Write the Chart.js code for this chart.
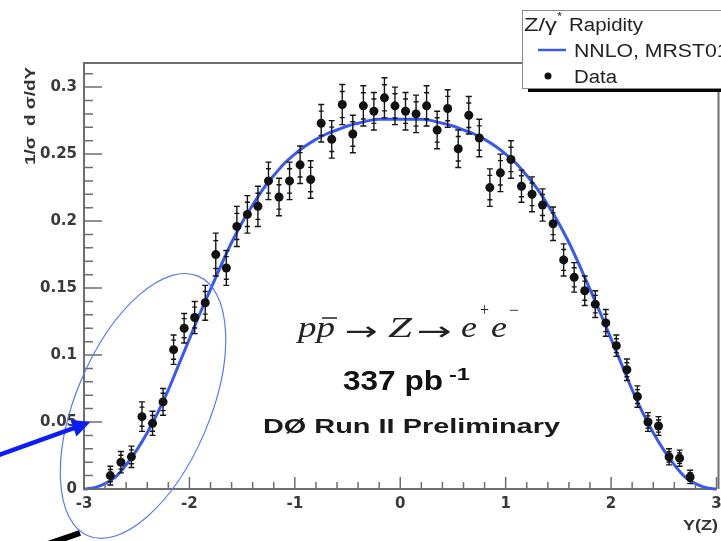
<!DOCTYPE html>
<html>
<head>
<meta charset="utf-8">
<script src="https://cdn.jsdelivr.net/npm/chart.js@4.4.1/dist/chart.umd.min.js"></script>
<style>
html, body { margin: 0; padding: 0; background: #fff; }
#c { display: block; }
</style>
</head>
<body>
<canvas id="c" width="721" height="541"></canvas>
<script>
// measured bins (bin centres in Y(Z))
const rapidity = [
  -2.75, -2.65, -2.55, -2.45, -2.35, -2.25, -2.15, -2.05, -1.95, -1.85,
  -1.75, -1.65, -1.55, -1.45, -1.35, -1.25, -1.15, -1.05, -0.95, -0.85,
  -0.75, -0.65, -0.55, -0.45, -0.35, -0.25, -0.15, -0.05, 0.05, 0.15,
  0.25, 0.35, 0.45, 0.55, 0.65, 0.75, 0.85, 0.95, 1.05, 1.15,
  1.25, 1.35, 1.45, 1.55, 1.65, 1.75, 1.85, 1.95, 2.05, 2.15,
  2.25, 2.35, 2.45, 2.55, 2.65, 2.75
];
const dsdy = [
  0.010, 0.020, 0.024, 0.054, 0.049, 0.065, 0.104, 0.120, 0.128, 0.139,
  0.175, 0.165, 0.196, 0.205, 0.211, 0.230, 0.218, 0.230, 0.242, 0.231,
  0.273, 0.261, 0.287, 0.265, 0.286, 0.282, 0.292, 0.286, 0.282, 0.280,
  0.286, 0.268, 0.284, 0.254, 0.279, 0.262, 0.225, 0.236, 0.246, 0.226,
  0.220, 0.212, 0.198, 0.171, 0.158, 0.148, 0.138, 0.124, 0.107, 0.089,
  0.069, 0.050, 0.047, 0.024, 0.023, 0.009
];
const dsdyErr = [
  0.007, 0.008, 0.008, 0.011, 0.009, 0.010, 0.011, 0.011, 0.012, 0.013,
  0.016, 0.013, 0.015, 0.014, 0.015, 0.014, 0.014, 0.014, 0.014, 0.014,
  0.014, 0.014, 0.015, 0.014, 0.015, 0.014, 0.015, 0.014, 0.014, 0.014,
  0.015, 0.014, 0.014, 0.014, 0.014, 0.014, 0.014, 0.014, 0.014, 0.012,
  0.013, 0.012, 0.0125, 0.012, 0.011, 0.011, 0.010, 0.010, 0.008, 0.008,
  0.008, 0.007, 0.007, 0.006, 0.006, 0.005
];

// NNLO, MRST01 prediction
const theoryX = [
  -3.0, -2.9, -2.8, -2.7, -2.6, -2.5, -2.4, -2.3, -2.2, -2.1,
  -2.0, -1.9, -1.8, -1.7, -1.6, -1.5, -1.4, -1.3, -1.2, -1.1,
  -1.0, -0.9, -0.8, -0.7, -0.6, -0.5, -0.4, -0.3, -0.2, -0.1,
  0.0, 0.1, 0.2, 0.3, 0.4, 0.5, 0.6, 0.7, 0.8, 0.9,
  1.0, 1.1, 1.2, 1.3, 1.4, 1.5, 1.6, 1.7, 1.8, 1.9,
  2.0, 2.1, 2.2, 2.3, 2.4, 2.5, 2.6, 2.7, 2.8, 2.9, 3.0
];
const theoryVal = [
  0.000, 0.001, 0.004, 0.009, 0.018, 0.029, 0.042, 0.057, 0.074, 0.093,
  0.112, 0.131, 0.149, 0.167, 0.184, 0.199, 0.212, 0.224, 0.234, 0.243,
  0.250, 0.256, 0.261, 0.265, 0.268, 0.271, 0.273, 0.275, 0.276, 0.276,
  0.276, 0.276, 0.276, 0.275, 0.273, 0.271, 0.268, 0.265, 0.261, 0.256,
  0.250, 0.243, 0.234, 0.224, 0.212, 0.199, 0.184, 0.167, 0.149, 0.131,
  0.112, 0.093, 0.074, 0.057, 0.042, 0.029, 0.018, 0.009, 0.004, 0.001, 0.000
];

const xTickVals = [-3, -2, -1, 0, 1, 2, 3];
const yTickVals = [0, 0.05, 0.1, 0.15, 0.2, 0.25, 0.3];

const BLUE = "#3a58f0";
const FRAME = "#6e6e6e";

function fitText(ctx, s, x, y, font, width, color) {
    ctx.save();
    ctx.font = font;
    ctx.fillStyle = color || "#111";
    ctx.textAlign = "left";
    ctx.textBaseline = "alphabetic";
    const w = ctx.measureText(s).width;
    ctx.translate(x, y);
    ctx.scale(width ? width / w : 1, 1);
    ctx.fillText(s, 0, 0);
    ctx.restore();
}

function scaledText(ctx, s, x, y, font, sx, color) {
    ctx.save();
    ctx.font = font;
    ctx.fillStyle = color || "#111";
    ctx.textBaseline = "alphabetic";
    ctx.translate(x, y);
    ctx.scale(sx, 1);
    ctx.fillText(s, 0, 0);
    ctx.restore();
}

const errorBars = {
    id: "errorBars",
    afterDatasetsDraw(chart) {
        const { ctx, scales: { x, y } } = chart;
        ctx.save();
        ctx.strokeStyle = "#151515";
        ctx.lineWidth = 1.4;
        rapidity.forEach((r, i) => {
            const px = x.getPixelForValue(r);
            const top = y.getPixelForValue(dsdy[i] + dsdyErr[i]);
            const bot = y.getPixelForValue(dsdy[i] - dsdyErr[i]);
            const inTop = y.getPixelForValue(dsdy[i] + dsdyErr[i] * 0.65);
            const inBot = y.getPixelForValue(dsdy[i] - dsdyErr[i] * 0.65);
            ctx.beginPath();
            ctx.moveTo(px, top);
            ctx.lineTo(px, bot);
            for (const yy of [top, bot]) {
                ctx.moveTo(px - 3, yy);
                ctx.lineTo(px + 3, yy);
            }
            for (const yy of [inTop, inBot]) {
                ctx.moveTo(px - 2.5, yy);
                ctx.lineTo(px + 2.5, yy);
            }
            ctx.stroke();
        });
        ctx.restore();
    },
};

const decorations = {
    id: "decorations",
    afterDraw(chart) {
        const { ctx, chartArea: a, scales: { x, y } } = chart;
        ctx.save();

        // frame top/right
        ctx.strokeStyle = FRAME;
        ctx.lineWidth = 2;
        ctx.beginPath();
        ctx.moveTo(a.left - 1, a.top);
        ctx.lineTo(a.right + 2, a.top);
        ctx.moveTo(a.right + 2, a.top);
        ctx.lineTo(a.right + 2, a.bottom);
        ctx.stroke();

        // inward ticks
        ctx.lineWidth = 1.5;
        ctx.beginPath();
        for (let k = 0; k <= 31; k++) {
            const py = y.getPixelForValue(k / 100);
            const len = k % 5 === 0 ? 18 : 9;
            ctx.moveTo(a.left, py);
            ctx.lineTo(a.left + len, py);
        }
        for (let k = -15; k <= 15; k++) {
            const px = x.getPixelForValue(k / 5);
            const len = k % 5 === 0 ? 12 : 7;
            ctx.moveTo(px, a.bottom);
            ctx.lineTo(px, a.bottom - len);
        }
        ctx.stroke();

        // axis titles
        ctx.save();
        ctx.translate(35, 165);
        ctx.rotate(-Math.PI / 2);
        fitText(ctx, "1/\u03c3  d \u03c3/dY", 0, 0, "bold 14px 'Liberation Sans'", 98, "#333");
        ctx.restore();
        fitText(ctx, "Y(Z)", 683, 530, "bold 14px 'Liberation Sans'", 35, "#333");

        // ellipse and arrows
        const ex = x.getPixelForValue(-2.44);
        const ey = y.getPixelForValue(0.062);
        ctx.strokeStyle = "#5a78f5";
        ctx.lineWidth = 1.2;
        ctx.beginPath();
        ctx.ellipse(ex, ey, 141, 67, -67 * Math.PI / 180, 0, Math.PI * 2);
        ctx.stroke();

        const tx = x.getPixelForValue(-2.94);
        const ty = y.getPixelForValue(0.05);
        const sx = -4, sy = 456;
        const ang = Math.atan2(ty - sy, tx - sx);
        ctx.strokeStyle = "#0b1cf5";
        ctx.fillStyle = "#0b1cf5";
        ctx.lineWidth = 4.5;
        ctx.beginPath();
        ctx.moveTo(sx, sy);
        ctx.lineTo(tx - 14 * Math.cos(ang), ty - 14 * Math.sin(ang));
        ctx.stroke();
        ctx.beginPath();
        ctx.moveTo(tx, ty);
        ctx.lineTo(tx - 18 * Math.cos(ang) + 9 * Math.sin(ang), ty - 18 * Math.sin(ang) - 9 * Math.cos(ang));
        ctx.lineTo(tx - 18 * Math.cos(ang) - 9 * Math.sin(ang), ty - 18 * Math.sin(ang) + 9 * Math.cos(ang));
        ctx.closePath();
        ctx.fill();

        ctx.strokeStyle = "#000";
        ctx.lineWidth = 6;
        ctx.beginPath();
        ctx.moveTo(42, 546);
        ctx.lineTo(80, 533);
        ctx.stroke();

        // physics labels
        const serif = "italic 30px 'Liberation Serif'";
        fitText(ctx, "pp", 298, 337, serif, 37, "#222");
        ctx.strokeStyle = "#222";
        ctx.lineWidth = 1.5;
        ctx.beginPath();
        ctx.moveTo(322, 318);
        ctx.lineTo(337, 318);
        ctx.stroke();
        fitText(ctx, "\u2192", 345, 340, "26px 'DejaVu Sans'", 33, "#222");
        fitText(ctx, "Z", 388, 337, serif, 24, "#222");
        fitText(ctx, "\u2192", 417, 340, "26px 'DejaVu Sans'", 35, "#222");
        fitText(ctx, "e", 461, 337, serif, 16, "#222");
        fitText(ctx, "+", 480, 316, "18px 'Liberation Serif'", 9, "#222");
        fitText(ctx, "e", 491, 337, serif, 16, "#222");
        fitText(ctx, "\u2212", 509, 316, "18px 'Liberation Serif'", 10, "#222");

        fitText(ctx, "337 pb", 343, 390, "bold 27px 'Liberation Sans'", 100, "#111");
        fitText(ctx, "-1", 449, 380, "bold 16px 'Liberation Sans'", 21, "#111");
        fitText(ctx, "D\u00d8 Run II Preliminary", 263, 433, "bold 21px 'Liberation Sans'", 297, "#1a1a1a");

        // legend
        ctx.fillStyle = "#000";
        ctx.fillRect(528, 88, 200, 4);
        ctx.fillStyle = "#fff";
        ctx.fillRect(522, 10, 205, 79);
        ctx.strokeStyle = "#8a8a8a";
        ctx.lineWidth = 1;
        ctx.strokeRect(522.5, 10.5, 205, 78);
        const lf = "18px 'Liberation Sans'";
        fitText(ctx, "Z/\u03b3", 524, 31, lf, 33, "#222");
        fitText(ctx, "*", 557, 20, "11px 'Liberation Sans'", 5, "#222");
        fitText(ctx, "Rapidity", 569, 31, lf, 74, "#222");
        ctx.strokeStyle = BLUE;
        ctx.lineWidth = 2.5;
        ctx.beginPath();
        ctx.moveTo(538, 50);
        ctx.lineTo(566, 50);
        ctx.stroke();
        scaledText(ctx, "NNLO, MRST01", 574, 57, lf, 1.18, "#222");
        ctx.fillStyle = "#111";
        ctx.beginPath();
        ctx.arc(548, 76, 3.5, 0, Math.PI * 2);
        ctx.fill();
        fitText(ctx, "Data", 574, 83, lf, 43, "#222");

        ctx.restore();
    },
};

const tickFont = { family: "'DejaVu Sans'", size: 15, weight: "bold" };

new Chart(document.getElementById("c"), {
    type: "scatter",
    data: {
        datasets: [
            {
                label: "Data",
                data: rapidity.map((r, i) => ({ x: r, y: dsdy[i] })),
                pointRadius: 4.5,
                pointBackgroundColor: "#111",
                pointBorderWidth: 0,
                order: 0,
            },
            {
                type: "line",
                label: "NNLO, MRST01",
                data: theoryX.map((r, i) => ({ x: r, y: theoryVal[i] })),
                borderColor: BLUE,
                borderWidth: 3,
                pointRadius: 0,
                cubicInterpolationMode: "monotone",
                fill: false,
                clip: 4,
                order: 1,
            },
        ],
    },
    options: {
        responsive: false,
        animation: false,
        devicePixelRatio: 1,
        layout: { padding: { top: 63, right: 3, left: 0, bottom: 0 } },
        plugins: { legend: { display: false }, tooltip: { enabled: false } },
        scales: {
            x: {
                type: "linear",
                min: -3,
                max: 3,
                grid: { display: false, drawTicks: false },
                border: { color: FRAME, width: 2 },
                ticks: {
                    font: tickFont,
                    color: "#3a3a3a",
                    padding: 6,
                    maxRotation: 0,
                    autoSkip: false,
                    callback: (v) => String(v),
                },
                afterBuildTicks: (s) => { s.ticks = xTickVals.map((v) => ({ value: v })); },
                afterFit: (s) => { s.height = 52; s.paddingLeft = 0; s.paddingRight = 0; },
            },
            y: {
                type: "linear",
                min: 0,
                max: 0.318,
                grid: { display: false, drawTicks: false },
                border: { color: FRAME, width: 2 },
                ticks: {
                    font: tickFont,
                    color: "#3a3a3a",
                    padding: 7,
                    autoSkip: false,
                    callback: (v) => String(+v.toFixed(2)),
                },
                afterBuildTicks: (s) => { s.ticks = yTickVals.map((v) => ({ value: v })); },
                afterFit: (s) => { s.width = 84; s.paddingTop = 0; s.paddingBottom = 0; },
            },
        },
    },
    plugins: [errorBars, decorations],
});
</script>
</body>
</html>
